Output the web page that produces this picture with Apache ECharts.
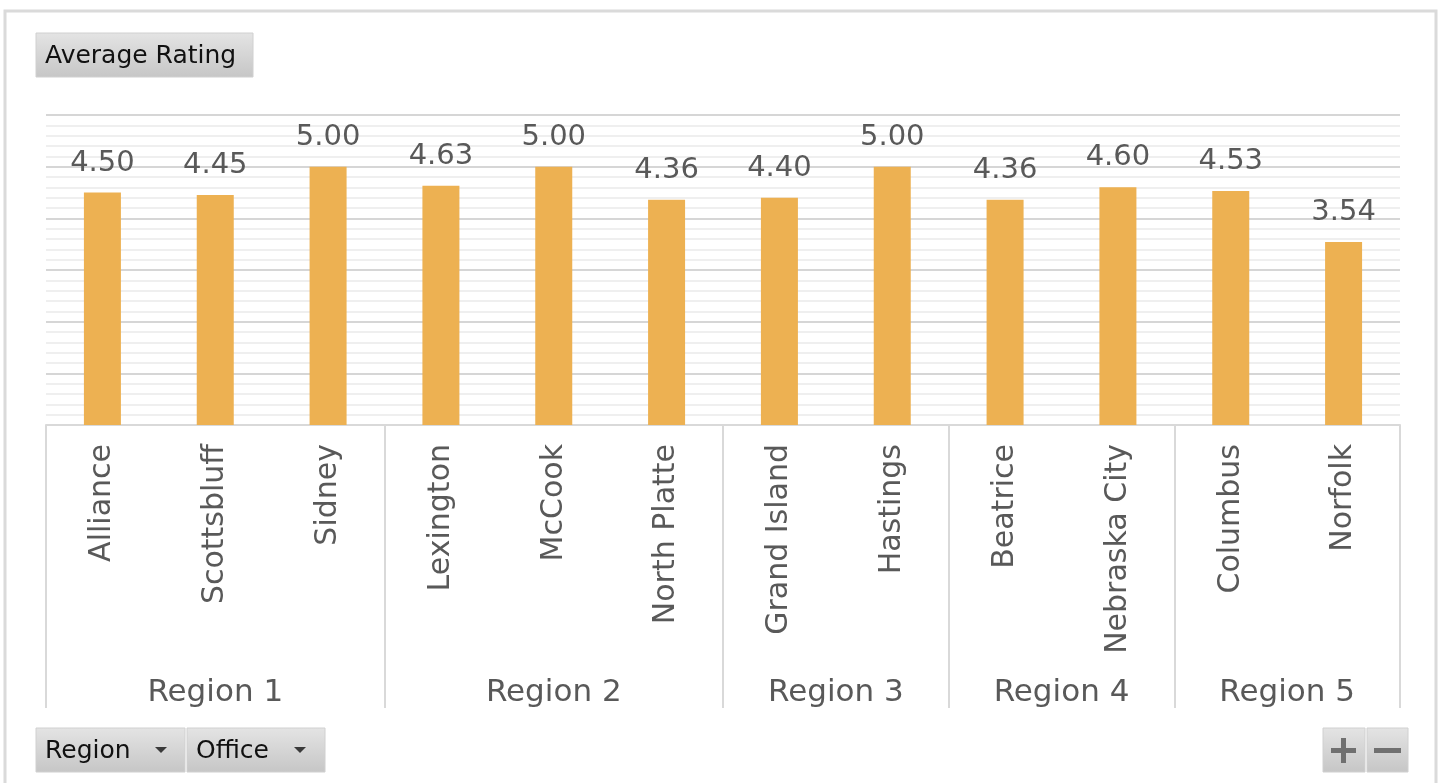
<!DOCTYPE html>
<html>
<head>
<meta charset="utf-8">
<script src="https://cdn.jsdelivr.net/npm/echarts@6/dist/echarts.min.js"></script>
<style>
html,body{margin:0;padding:0;background:#fff;}
#chart{width:1444px;height:783px;}
</style>
</head>
<body>
<div id="chart"></div>
<script>
// ---- data ----
const regions = ['Region 1', 'Region 2', 'Region 3', 'Region 4', 'Region 5'];
const officesPerRegion = [3, 3, 2, 2, 2];
const offices = ['Alliance', 'Scottsbluff', 'Sidney', 'Lexington', 'McCook', 'North Platte',
  'Grand Island', 'Hastings', 'Beatrice', 'Nebraska City', 'Columbus', 'Norfolk'];
const ratings = [4.50, 4.45, 5.00, 4.63, 5.00, 4.36, 4.40, 5.00, 4.36, 4.60, 4.53, 3.54];
const yTicks = [0, 1, 2, 3, 4, 5, 6];

// group boundaries and centers (in category units) derived from counts
const boundaries = [0];
officesPerRegion.forEach(n => boundaries.push(boundaries[boundaries.length - 1] + n));
const centers = regions.map((r, i) => (boundaries[i] + boundaries[i + 1]) / 2);

const FONT = 'DejaVu Sans';
const chart = echarts.init(document.getElementById('chart'));

function grad(a, b) {
  return new echarts.graphic.LinearGradient(0, 0, 0, 1, [{offset: 0, color: a}, {offset: 1, color: b}]);
}
function button(x, y, w, h) {
  return {type: 'rect', shape: {x: x, y: y, width: w, height: h},
    style: {fill: grad('#e4e4e4', '#c6c6c6'), stroke: '#d0d0d0', lineWidth: 1}};
}
function arrow(cx, cy) {
  return {type: 'polygon', shape: {points: [[cx - 6, cy - 3], [cx + 6, cy - 3], [cx, cy + 3]]},
    style: {fill: '#3a3a3a'}};
}

chart.setOption({
  animation: false,
  backgroundColor: '#ffffff',
  grid: {left: 46, right: 44, top: 115, bottom: 358, containLabel: false},
  xAxis: [
    {
      type: 'category',
      data: offices,
      position: 'bottom',
      axisLine: {show: true, lineStyle: {color: '#d9d9d9', width: 2}},
      axisTick: {show: false},
      axisLabel: {
        rotate: 90, margin: 19, interval: 0,
        fontFamily: FONT, fontSize: 30, color: '#595959'
      }
    },
    {
      type: 'value',
      min: 0, max: offices.length,
      position: 'bottom',
      axisLine: {show: false},
      splitLine: {show: false},
      axisTick: {show: true, length: 283, customValues: boundaries,
        lineStyle: {color: '#d9d9d9', width: 2}},
      axisLabel: {
        customValues: centers, margin: 252,
        fontFamily: FONT, fontSize: 31, color: '#595959',
        formatter: v => regions[centers.indexOf(v)] || ''
      }
    }
  ],
  yAxis: {
    type: 'value', min: yTicks[0], max: yTicks[yTicks.length - 1], interval: 1,
    axisLine: {show: false}, axisTick: {show: false}, axisLabel: {show: false},
    splitLine: {show: true, lineStyle: {color: '#d6d6d6', width: 2}},
    minorTick: {show: false, splitNumber: 5},
    minorSplitLine: {show: true, lineStyle: {color: '#efefef', width: 2}}
  },
  series: [{
    type: 'bar',
    xAxisIndex: 0,
    data: ratings,
    barWidth: 37,
    itemStyle: {color: '#EDB152'},
    label: {
      show: true, position: 'top', distance: 15,
      fontFamily: FONT, fontSize: 29, color: '#595959',
      formatter: p => p.value.toFixed(2)
    }
  }],
  graphic: [
    {type: 'rect', shape: {x: 5, y: 11, width: 1431, height: 800},
      style: {fill: 'none', stroke: '#dadada', lineWidth: 3}, silent: true},
    button(36, 33, 217, 44),
    {type: 'text', x: 45, y: 56, style: {text: 'Average Rating', fontFamily: FONT, fontSize: 25,
      fill: '#111', verticalAlign: 'middle'}},
    button(36, 728, 149, 44),
    {type: 'text', x: 45, y: 751, style: {text: 'Region', fontFamily: FONT, fontSize: 25,
      fill: '#111', verticalAlign: 'middle'}},
    arrow(161, 750),
    button(187, 728, 138, 44),
    {type: 'text', x: 196, y: 751, style: {text: 'Office', fontFamily: FONT, fontSize: 25,
      fill: '#111', verticalAlign: 'middle'}},
    arrow(300, 750),
    button(1323, 728, 42, 44),
    button(1367, 728, 41, 44),
    {type: 'rect', shape: {x: 1331, y: 748, width: 25, height: 5}, style: {fill: '#707070'}},
    {type: 'rect', shape: {x: 1341, y: 738, width: 5, height: 25}, style: {fill: '#707070'}},
    {type: 'rect', shape: {x: 1374, y: 748, width: 27, height: 5}, style: {fill: '#707070'}}
  ]
});
</script>
</body>
</html>
